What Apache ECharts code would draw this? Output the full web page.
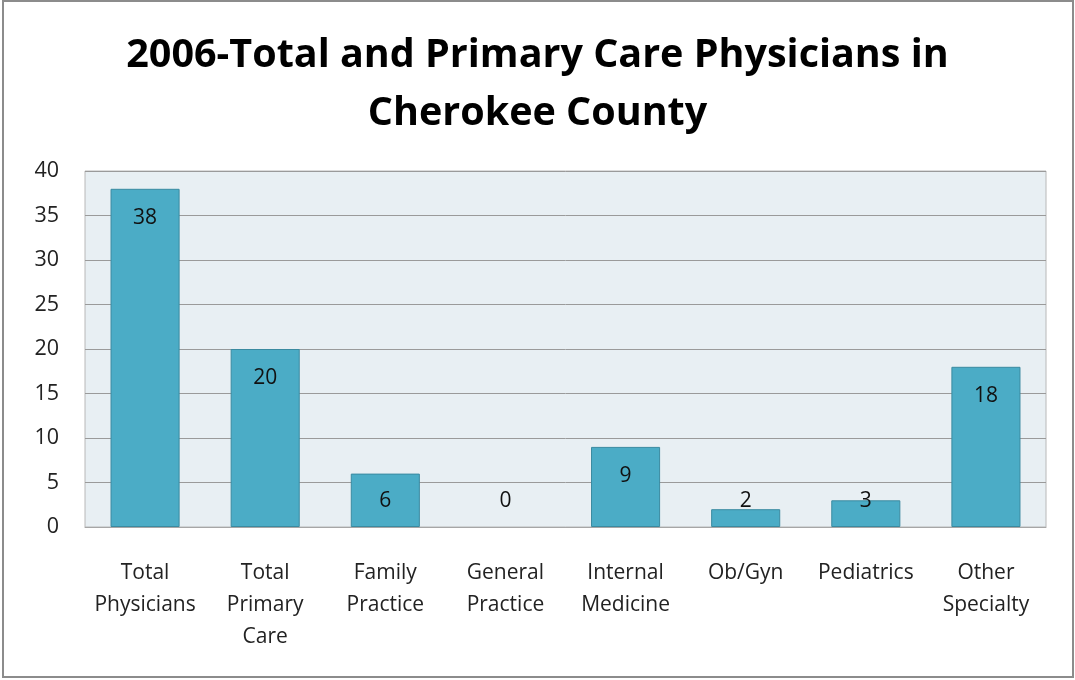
<!DOCTYPE html>
<html>
<head>
<meta charset="utf-8">
<script src="https://cdn.jsdelivr.net/npm/echarts@6/dist/echarts.min.js"></script>
<style>
  html, body { margin: 0; padding: 0; background: #fff; }
  #main { width: 1075px; height: 680px; }
</style>
</head>
<body>
<div id="main"></div>
<script>
var categories = ['Total\nPhysicians', 'Total\nPrimary\nCare', 'Family\nPractice', 'General\nPractice', 'Internal\nMedicine', 'Ob/Gyn', 'Pediatrics', 'Other\nSpecialty'];
var physicianCounts = [38, 20, 6, 0, 9, 2, 3, 18];
var yTicks = [0, 5, 10, 15, 20, 25, 30, 35, 40];

var chart = echarts.init(document.getElementById('main'));

// 小柱子的标签放在底部，高柱子放在顶部内侧
var barData = physicianCounts.map(function (v) {
  return {
    value: v,
    itemStyle: v === 0 ? { borderWidth: 0 } : {},
    label: v <= 6 ? { position: 'insideBottom', distance: 15 } : { position: 'insideTop', distance: 19 }
  };
});

var option = {
  animation: false,
  title: {
    text: '2006-Total and Primary Care Physicians in\nCherokee County',
    left: 'center',
    top: 22,
    textStyle: {
      fontFamily: 'Open Sans',
      fontWeight: 'bold',
      fontSize: 39.5,
      lineHeight: 58,
      color: '#000'
    }
  },
  graphic: [{
    type: 'rect',
    shape: { x: 3, y: 1, width: 1070, height: 676 },
    style: { fill: 'none', stroke: '#8c8c8c', lineWidth: 2 },
    silent: true
  }],
  grid: {
    left: 85,
    right: 29,
    top: 171,
    bottom: 153,
    show: true,
    backgroundColor: '#e8eff3',
    borderColor: '#b8b8b8',
    borderWidth: 1
  },
  xAxis: {
    type: 'category',
    data: categories,
    axisLine: { show: true, lineStyle: { color: '#a6a6a6' } },
    axisTick: { show: false },
    axisLabel: {
      color: '#222',
      fontFamily: 'Open Sans',
      fontSize: 21,
      lineHeight: 32,
      margin: 30,
      interval: 0
    }
  },
  yAxis: {
    type: 'value',
    min: yTicks[0],
    max: yTicks[yTicks.length - 1],
    interval: 5,
    axisLine: { show: false },
    axisTick: { show: false },
    splitLine: { lineStyle: { color: '#9a9a9a', width: 1 } },
    axisLabel: {
      color: '#222',
      fontFamily: 'Open Sans',
      fontSize: 21.5,
      margin: 26
    }
  },
  series: [{
    type: 'bar',
    data: barData,
    barWidth: '57.5%',
    itemStyle: {
      color: '#4bacc6',
      borderColor: '#3a8aa0',
      borderWidth: 1
    },
    label: {
      show: true,
      color: '#111',
      fontFamily: 'Open Sans',
      fontSize: 21
    }
  }]
};
chart.setOption(option);
</script>
</body>
</html>
